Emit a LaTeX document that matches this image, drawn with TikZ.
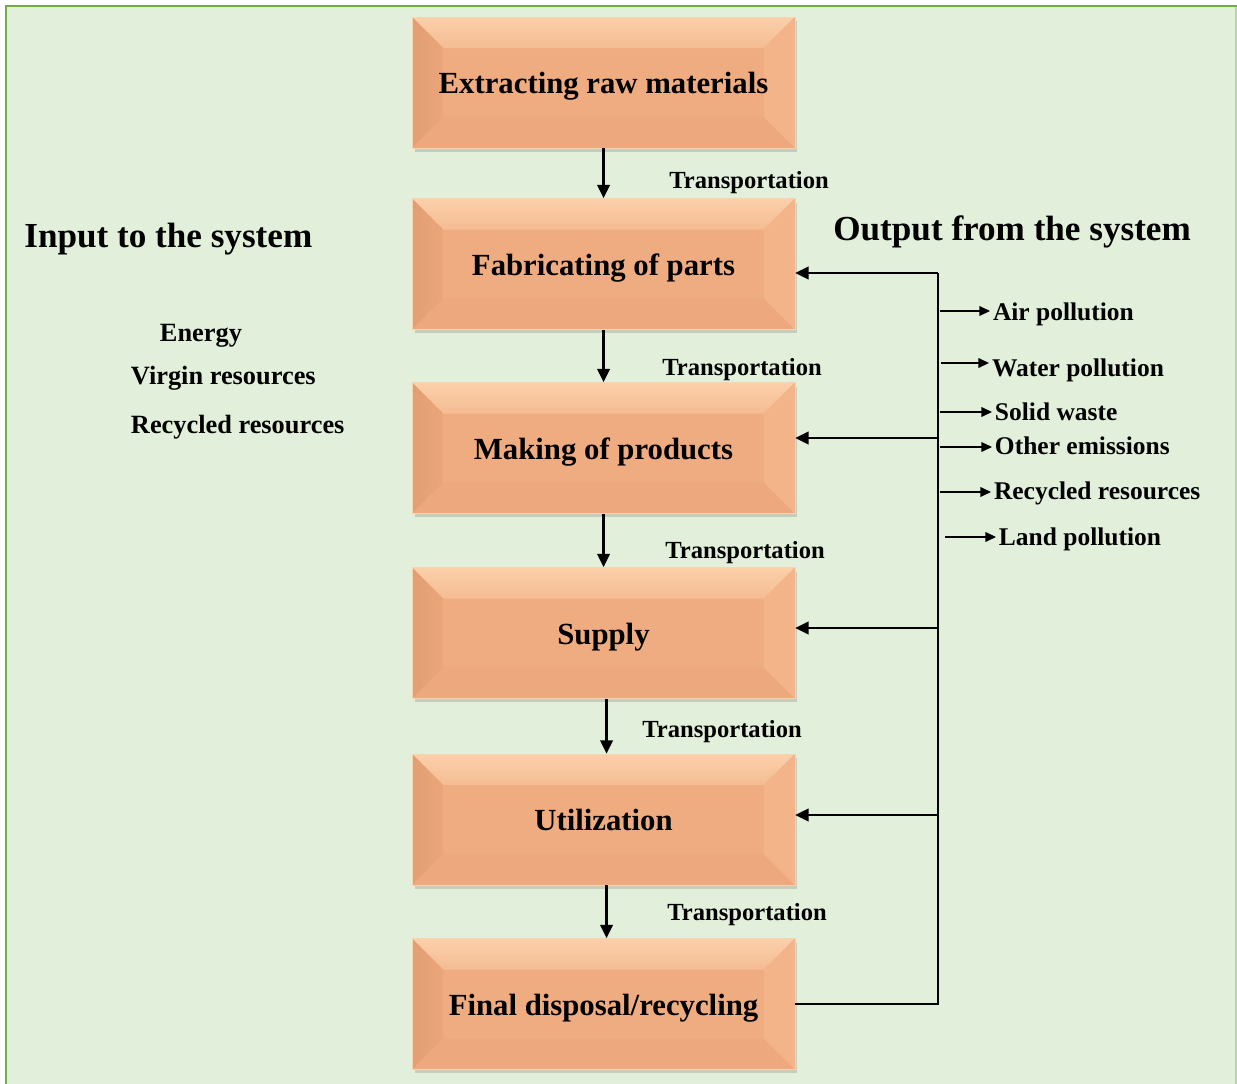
\documentclass[tikz,border=0pt]{standalone}
\usepackage{fontspec}
\setmainfont{Liberation Serif}
\usetikzlibrary{arrows.meta, calc, shadows}

\definecolor{bgfill}{RGB}{226,239,218}
\definecolor{frame}{RGB}{112,173,71}
\definecolor{face}{RGB}{239,172,128}
\definecolor{bevtop}{RGB}{251,208,170}
\definecolor{bevleft}{RGB}{235,165,121}
\definecolor{bevright}{RGB}{243,180,137}
\definecolor{bevbot}{RGB}{237,169,125}
\definecolor{rim}{RGB}{250,210,172}

\begin{document}
\begin{tikzpicture}[x=0.02cm, y=-0.02cm,
  stage/.style={rectangle, draw=rim, line width=0.4pt, fill=face,
    minimum width=7.66cm, minimum height=2.62cm, align=center,
    text height=12.6pt, text depth=0pt,
    font=\fontsize{17.5}{20}\selectfont\bfseries,
    drop shadow={opacity=0.3, shadow xshift=0.05cm, shadow yshift=-0.08cm},
    path picture={
      \path (path picture bounding box.north west) coordinate (bnw)
            (path picture bounding box.south east) coordinate (bse);
      \shade[top color=bevtop, bottom color=bevtop!45!face]
        (bnw) -- (bnw -| bse) -- ($(bnw -| bse)+(-31,31)$) -- ($(bnw)+(31,31)$) -- cycle;
      \shade[left color=bevleft!96!black, right color=bevleft]
        (bnw) -- ($(bnw)+(31,31)$) -- ($(bnw |- bse)+(31,-31)$) -- (bnw |- bse) -- cycle;
      \fill[bevbot] (bnw |- bse) -- ($(bnw |- bse)+(31,-31)$) -- ($(bse)+(-31,-31)$) -- (bse) -- cycle;
      \fill[bevright] (bse) -- ($(bse)+(-31,-31)$) -- ($(bnw -| bse)+(-31,31)$) -- (bnw -| bse) -- cycle;
    }},
  head/.style={anchor=west, inner sep=0pt, text height=14.8pt, text depth=0pt,
    font=\fontsize{20}{24}\selectfont\bfseries},
  item/.style={anchor=west, inner sep=1.5pt, text height=9pt, text depth=0pt,
    font=\fontsize{14.5}{17}\selectfont\bfseries},
  trans/.style={anchor=west, inner sep=0pt, text height=8.7pt, text depth=0pt,
    font=\fontsize{14}{16}\selectfont\bfseries},
  arr/.style={-{Triangle[length=7.5pt, width=7pt]}, line width=1.4pt},
  bus/.style={line width=1.4pt},
  emit/.style={-{Triangle[length=6pt, width=5.5pt]}, line width=0.7pt}
]
\useasboundingbox (0,0) rectangle (1237,1084);
% background panel
\fill[bgfill] (6,6) rectangle (1236,1090);
\draw[frame!50, line width=0.6pt] (1236,6) -- (1236,1090);
\draw[frame, line width=1.6pt] (6,1090) -- (6,6) -- (1240,6);

% life cycle stages
\node[stage] (extract) at (603.5,82.5) {Extracting raw  materials};
\node[stage] (fabric)  at (603.5,264)  {Fabricating of parts};
\node[stage] (making)  at (603.5,448)  {Making of products};
\node[stage] (supply)  at (603.5,633)  {Supply};
\node[stage] (util)    at (603.5,819.5) {Utilization};
\node[stage] (final)   at (603.5,1004) {Final disposal/recycling};

\draw[arr] (extract) -- (fabric);
\draw[arr] (fabric)  -- (making);
\draw[arr] (making)  -- (supply);
\draw[arr] ([xshift=0.06cm]supply.south) -- ([xshift=0.06cm]util.north);
\draw[arr] ([xshift=0.06cm]util.south) -- ([xshift=0.06cm]final.north);

\node[trans] (t1) at (669,181) {Transportation};
\node[trans] (t2) at (662,368) {Transportation};
\node[trans] (t3) at (665,551) {Transportation};
\node[trans] (t4) at (642,730) {Transportation};
\node[trans] (t5) at (667,913) {Transportation};

% inputs
\node[head] (inhead) at (24,235) {Input to the system};
\node[item, font=\fontsize{15}{17}\selectfont\bfseries] (energy) at (157,334) {Energy};
\node[item, font=\fontsize{15}{17}\selectfont\bfseries] (virgin) at (128,377) {Virgin resources};
\node[item, font=\fontsize{15}{17}\selectfont\bfseries] (recin)  at (128,426) {Recycled resources};

% feedback bus
\coordinate (b2) at (938,273);
\coordinate (b3) at (938,438);
\coordinate (b4) at (938,628);
\coordinate (b5) at (938,815);
\draw[bus] (final.east) -| (b2);
\draw[arr] (b2) -- (b2 -| fabric.east);
\draw[arr] (b3) -- (b3 -| making.east);
\draw[arr] (b4) -- (b4 -| supply.east);
\draw[arr] (b5) -- (b5 -| util.east);

% outputs
\node[head] (outhead) at (833,227) {Output from the system};
\node[item] (air)   at (990,313) {Air pollution};
\node[item] (water) at (989,369) {Water pollution};
\node[item] (solid) at (992,413) {Solid waste};
\node[item] (other) at (992,447) {Other emissions};
\node[item] (recout) at (991,492) {Recycled resources};
\node[item] (land)  at (996,538) {Land pollution};

\coordinate (o1) at (940,311);
\coordinate (o2) at (941,363);
\coordinate (o3) at (940,412);
\coordinate (o4) at (940,447);
\coordinate (o5) at (940,492);
\coordinate (o6) at (945,537);
\draw[emit] (o1) -- (o1 -| air.west);
\draw[emit] (o2) -- (o2 -| water.west);
\draw[emit] (o3) -- (o3 -| solid.west);
\draw[emit] (o4) -- (o4 -| other.west);
\draw[emit] (o5) -- (o5 -| recout.west);
\draw[emit] (o6) -- (o6 -| land.west);
\end{tikzpicture}
\end{document}
